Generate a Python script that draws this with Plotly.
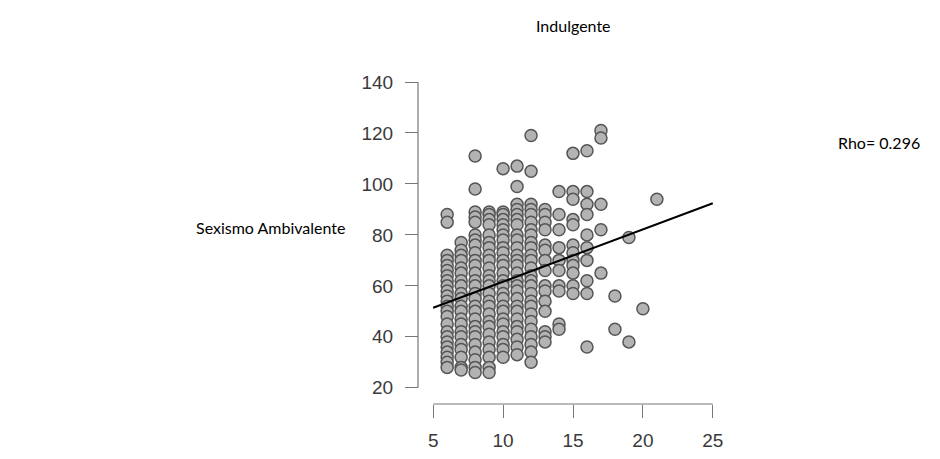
import plotly.graph_objects as go

# ---- data ----
columns = {
    6: [88, 85, 72, 70, 68, 66, 64, 62, 60, 58, 56, 54, 52, 50, 48, 45, 42, 40, 38, 36, 34, 32, 30, 28],
    7: [77, 74, 72, 70, 67, 65, 62, 60, 57, 55, 52, 50, 47, 45, 42, 40, 37, 35, 32, 28, 27],
    8: [111, 98, 89, 87, 85, 80, 78, 76, 73, 70, 68, 65, 62, 60, 57, 55, 52, 50, 47, 44, 42, 40, 37, 34, 31, 28, 26],
    9: [89, 88, 86, 84, 80, 77, 75, 72, 70, 67, 64, 62, 60, 57, 54, 52, 49, 46, 44, 41, 38, 35, 32, 28, 26],
    10: [106, 89, 88, 86, 84, 82, 80, 78, 75, 73, 70, 68, 65, 62, 60, 57, 55, 52, 50, 47, 45, 42, 40, 37, 35, 32],
    11: [107, 99, 92, 90, 88, 86, 84, 80, 78, 75, 72, 70, 68, 65, 62, 60, 58, 55, 52, 50, 47, 44, 42, 39, 36, 33],
    12: [119, 105, 92, 90, 88, 85, 82, 80, 77, 75, 72, 70, 67, 64, 62, 60, 57, 54, 52, 49, 46, 43, 40, 37, 34, 30],
    13: [90, 88, 85, 82, 76, 74, 70, 66, 60, 58, 54, 50, 42, 40, 38],
    14: [97, 88, 82, 75, 70, 66, 60, 58, 45, 43],
    15: [112, 97, 94, 86, 84, 76, 73, 70, 68, 65, 60, 57],
    16: [113, 97, 92, 88, 80, 75, 70, 62, 57, 36],
    17: [121, 118, 92, 82, 65],
    18: [56, 43],
    19: [79, 38],
    20: [51],
    21: [94],
}
x_vals = [x for x, ys in columns.items() for _ in ys]
y_vals = [y for ys in columns.values() for y in ys]

fit_x = [5, 25]
fit_y = [51.4, 92.4]

x_ticks = [5, 10, 15, 20, 25]
y_ticks = [20, 40, 60, 80, 100, 120, 140]

title_text = "Indulgente"
ylabel_text = "Sexismo Ambivalente"
rho_text = "Rho= 0.296"

# page body has an 8px margin; figure is placed inside it
OFF = 8
W, H = 932, 451


def px(x):
    return (x - OFF) / W


def py(y):
    return 1 - (y - OFF) / H


fig = go.Figure()
fig.add_trace(go.Scatter(
    x=x_vals, y=y_vals, mode="markers",
    marker=dict(size=12, color="#b3b3b3", line=dict(color="#555555", width=1.5)),
    showlegend=False, hoverinfo="skip",
))
fig.add_trace(go.Scatter(
    x=fit_x, y=fit_y, mode="lines",
    line=dict(color="black", width=2),
    showlegend=False, hoverinfo="skip",
))

axis_font = dict(family="Liberation Sans, Arial", size=19, color="#3a3a3a")
x_axis_pos = py(404)
y_axis_pos = px(418)
axis_col = "#777777"
text_font = dict(family="Lato", size=16, color="black")

fig.update_layout(
    width=W, height=H,
    margin=dict(l=0, r=0, t=0, b=0),
    paper_bgcolor="white", plot_bgcolor="white",
    xaxis=dict(
        domain=[px(422), px(724)], range=[4.2, 25.8],
        anchor="free", position=x_axis_pos,
        tickvals=x_ticks, ticks="outside", ticklen=13, tickwidth=1.2, tickcolor=axis_col,
        showgrid=False, zeroline=False, showline=False,
        tickfont=axis_font, ticklabelstandoff=6,
    ),
    yaxis=dict(
        domain=[py(400), py(69.8)], range=[15.2, 144.8],
        anchor="free", position=y_axis_pos,
        tickvals=y_ticks, ticks="outside", ticklen=13, tickwidth=1.2, tickcolor=axis_col,
        showgrid=False, zeroline=False, showline=False,
        tickfont=axis_font, ticklabelstandoff=8,
    ),
    shapes=[
        dict(type="line", xref="x", yref="paper", x0=x_ticks[0], x1=x_ticks[-1],
             y0=x_axis_pos, y1=x_axis_pos, line=dict(color=axis_col, width=1.2)),
        dict(type="line", xref="paper", yref="y", x0=y_axis_pos, x1=y_axis_pos,
             y0=y_ticks[0], y1=y_ticks[-1], line=dict(color=axis_col, width=1.2)),
    ],
    annotations=[
        dict(text=title_text, xref="paper", yref="paper", x=px(573), y=py(25),
             showarrow=False, xanchor="center", yanchor="middle", font=text_font),
        dict(text=ylabel_text, xref="paper", yref="paper", x=px(270), y=py(227),
             showarrow=False, xanchor="center", yanchor="middle", font=text_font),
        dict(text=rho_text, xref="paper", yref="paper", x=px(836), y=py(142),
             showarrow=False, xanchor="left", yanchor="middle", font=text_font),
    ],
)

fig.write_html("out.html")
